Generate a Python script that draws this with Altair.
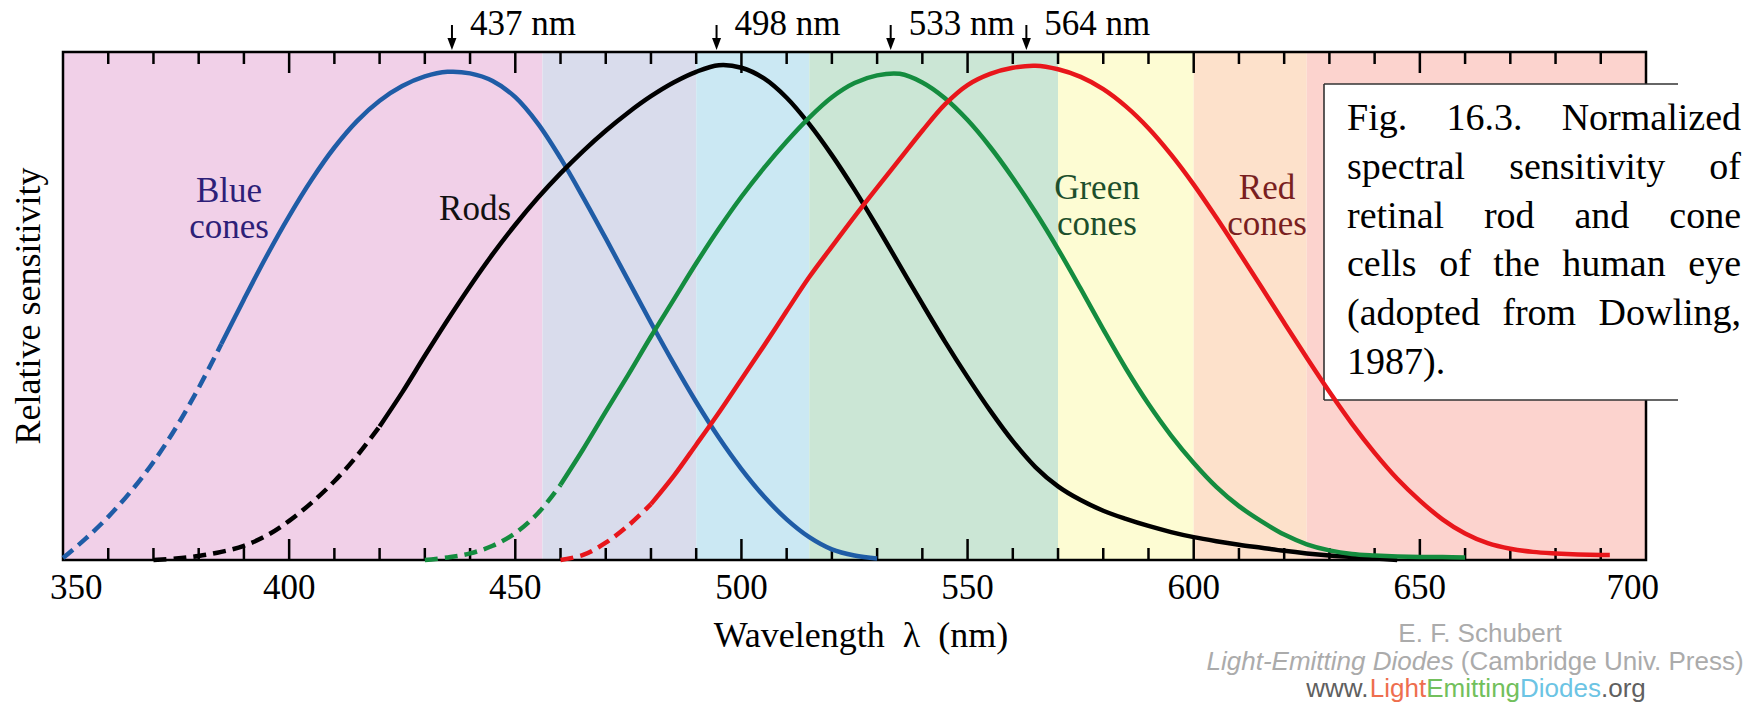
import altair as alt
import pandas as pd

# ---------------- data ----------------
band_start = [350, 456, 490, 515, 570, 600, 625]
band_end = [456, 490, 515, 570, 600, 625, 700]
band_color = ["#f1d0e8", "#d9dcec", "#cbe8f3", "#cbe6d5", "#fdfcd3", "#fde1cb", "#fcd3ce"]

blue_wl = [350, 355, 360, 365, 370, 375, 380, 385, 390, 395, 400, 405, 410, 415, 420,
           425, 430, 435, 440, 445, 450, 455, 460, 465, 470, 475, 480, 485, 490, 495,
           500, 505, 510, 515, 520, 525, 530]
blue_val = [0.004, 0.042, 0.085, 0.135, 0.193, 0.261, 0.339, 0.425, 0.513, 0.598, 0.677,
            0.749, 0.812, 0.864, 0.904, 0.933, 0.952, 0.961, 0.958, 0.943, 0.911, 0.859,
            0.791, 0.714, 0.633, 0.55, 0.467, 0.387, 0.311, 0.241, 0.179, 0.125, 0.08,
            0.045, 0.021, 0.009, 0.003]

rods_wl = [370, 375, 380, 385, 390, 395, 400, 405, 410, 415, 420, 425, 430, 435, 440,
           445, 450, 455, 460, 465, 470, 475, 480, 485, 490, 495, 500, 505, 510, 515,
           520, 525, 530, 535, 540, 545, 550, 555, 560, 565, 570, 575, 580, 585, 590,
           595, 600, 605, 610, 615, 620, 625, 630, 635, 640, 645]
rods_val = [0.0, 0.003, 0.008, 0.016, 0.028, 0.048, 0.077, 0.113, 0.155, 0.205, 0.263,
            0.33, 0.402, 0.472, 0.539, 0.602, 0.66, 0.713, 0.761, 0.805, 0.845, 0.881,
            0.913, 0.94, 0.961, 0.974, 0.969, 0.948, 0.91, 0.858, 0.797, 0.729, 0.656,
            0.58, 0.504, 0.43, 0.36, 0.294, 0.234, 0.183, 0.145, 0.118, 0.097, 0.081,
            0.067, 0.055, 0.045, 0.037, 0.03, 0.024, 0.018, 0.013, 0.009, 0.006, 0.003,
            0.0]

green_wl = [430, 435, 440, 445, 450, 455, 460, 465, 470, 475, 480, 485, 490, 495, 500,
            505, 510, 515, 520, 525, 530, 535, 540, 545, 550, 555, 560, 565, 570, 575,
            580, 585, 590, 595, 600, 605, 610, 615, 620, 625, 630, 635, 640, 645, 650,
            655, 660]
green_val = [0.0, 0.005, 0.013, 0.028, 0.053, 0.092, 0.148, 0.218, 0.292, 0.365, 0.44,
             0.512, 0.584, 0.652, 0.715, 0.772, 0.824, 0.871, 0.911, 0.939, 0.954, 0.957,
             0.94, 0.909, 0.866, 0.813, 0.752, 0.685, 0.612, 0.534, 0.454, 0.377, 0.307,
             0.245, 0.191, 0.144, 0.106, 0.076, 0.05, 0.031, 0.019, 0.012, 0.009, 0.007,
             0.006, 0.006, 0.005]

red_wl = [460, 465, 470, 475, 480, 485, 490, 495, 500, 505, 510, 515, 520, 525, 530,
          535, 540, 545, 550, 555, 560, 565, 570, 575, 580, 585, 590, 595, 600, 605,
          610, 615, 620, 625, 630, 635, 640, 645, 650, 655, 660, 665, 670, 675, 680,
          685, 690, 692]
red_val = [0.0, 0.01, 0.034, 0.068, 0.11, 0.165, 0.227, 0.29, 0.356, 0.422, 0.49, 0.557,
           0.617, 0.676, 0.733, 0.789, 0.845, 0.897, 0.935, 0.957, 0.969, 0.973, 0.966,
           0.951, 0.927, 0.893, 0.85, 0.798, 0.739, 0.674, 0.606, 0.537, 0.467, 0.398,
           0.331, 0.268, 0.211, 0.16, 0.117, 0.08, 0.052, 0.033, 0.022, 0.016, 0.013,
           0.011, 0.01, 0.01]

curve_names = ["blue", "rods", "green", "red"]
curve_colors = ["#1f5ca6", "#000000", "#148c3f", "#e8161b"]
dash_until = [385, 420, 460, 480]      # dashed (extrapolated) part of each curve

peak_wl = [436, 494.5, 533, 563]
peak_label = ["437 nm", "498 nm", "533 nm", "564 nm"]

x_tick_labels = [350, 400, 450, 500, 550, 600, 650, 700]
major_ticks = [400, 450, 500, 550, 600, 650]
minor_ticks = [360, 370, 380, 390, 410, 420, 430, 440, 460, 470, 480, 490, 510, 520,
               530, 540, 560, 570, 580, 590, 610, 620, 630, 640, 660, 670, 680, 690]
x_title = "Wavelength\u00a0\u00a0λ\u00a0\u00a0(nm)"
y_title = "Relative sensitivity"

curve_label_text = ["Blue", "cones", "Rods", "Green", "cones", "Red", "cones"]
curve_label_color = ["#2e1f78", "#2e1f78", "#111111", "#1d4f2c", "#1d4f2c", "#7a1f1f", "#7a1f1f"]
curve_label_wl = [386.7, 386.7, 441.1, 578.6, 578.6, 616.2, 616.2]
curve_label_val = [0.705, 0.634, 0.669, 0.711, 0.640, 0.711, 0.640]

caption_lines = ["Fig. 16.3. Normalized", "spectral sensitivity of", "retinal rod and cone",
                 "cells of the human eye", "(adopted from Dowling,", "1987)."]

credit_line1 = "E. F. Schubert"
credit_line2_italic = "Light-Emitting Diodes"
credit_line2_plain = "(Cambridge Univ. Press)"
credit_url_parts = ["www.", "Light", "Emitting", "Diodes", ".org"]
credit_url_colors = ["#606060", "#ee6e4e", "#72c05c", "#6cc4e4", "#606060"]

for a, b in [(blue_wl, blue_val), (rods_wl, rods_val), (green_wl, green_val), (red_wl, red_val)]:
    assert len(a) == len(b)

# ---------------- layout ----------------
W, H = 1583, 508
SERIF = "Liberation Serif"
SANS = "Liberation Sans"

TIMES = {"F": .556, "i": .278, "g": .5, ".": .25, "1": .5, "6": .5, "3": .5, "N": .722,
         "o": .5, "r": .333, "m": .778, "a": .444, "l": .278, "z": .444, "e": .444,
         "d": .5, "s": .389, "p": .5, "c": .444, "t": .278, "n": .5, "v": .5, "y": .5,
         "f": .333, "h": .5, "u": .5, "(": .333, "D": .722, "w": .722, ",": .25,
         "9": .5, "8": .5, "7": .5, ")": .333, " ": .25}
ARIAL = {"L": .556, "i": .222, "g": .556, "h": .556, "t": .278, "-": .333, "E": .667,
         "m": .833, "n": .556, " ": .278, "D": .722, "o": .556, "d": .556, "e": .556,
         "s": .5, "(": .333, "C": .722, "a": .556, "b": .556, "r": .333, "U": .722,
         "v": .5, ".": .278, "P": .667, ")": .333, "w": .722}


def width(s, table, size):
    return sum(table.get(c, 0.5) for c in s) * size


# caption box (pixel coords relative to plot origin)
BOX_L, BOX_T, BOX_R, BOX_B = 1261, 32, 1615, 348
CAP_FS, CAP_L, CAP_R, CAP_Y0, CAP_DY = 38, 1284, 1678, 67, 48.8

cap_rows = []
for i, line in enumerate(caption_lines):
    y = CAP_Y0 + i * CAP_DY
    words = line.split(" ")
    if i == len(caption_lines) - 1:
        cap_rows.append(dict(t=line, px=CAP_L, py=y, a="left"))
        continue
    ws = [width(w, TIMES, CAP_FS) for w in words]
    gap = (CAP_R - CAP_L - sum(ws)) / (len(words) - 1)
    x = CAP_L
    for j, (w, wd) in enumerate(zip(words, ws)):
        if j == len(words) - 1:
            cap_rows.append(dict(t=w, px=CAP_R, py=y, a="right"))
        else:
            cap_rows.append(dict(t=w, px=x, py=y, a="left"))
        x += wd + gap
cap_df = pd.DataFrame(cap_rows)

# credits
CR_FS = 26
CR_CX = 1413
CR_Y = [582, 610, 637]
cr1 = pd.DataFrame([dict(t=credit_line1, px=CR_CX + 4, py=CR_Y[0])])
w_it = width(credit_line2_italic, ARIAL, CR_FS)
w_sp = width(" ", ARIAL, CR_FS)
w_pl = width(credit_line2_plain, ARIAL, CR_FS)
start2 = CR_CX - (w_it + w_sp + w_pl) / 2
cr2i = pd.DataFrame([dict(t=credit_line2_italic, px=start2, py=CR_Y[1])])
cr2p = pd.DataFrame([dict(t=credit_line2_plain, px=start2 + w_it + w_sp, py=CR_Y[1])])
url_w = [width(p, ARIAL, CR_FS) for p in credit_url_parts]
xx = CR_CX - sum(url_w) / 2
url_rows = []
for p, c, wd in zip(credit_url_parts, credit_url_colors, url_w):
    url_rows.append(dict(t=p, px=xx, py=CR_Y[2], c=c))
    xx += wd
url_df = pd.DataFrame(url_rows)

# ---------------- tables ----------------
bands = pd.DataFrame({"start": band_start, "end": band_end, "color": band_color})

rows = []
for name, color, split, wls, vals in zip(curve_names, curve_colors, dash_until,
                                         [blue_wl, rods_wl, green_wl, red_wl],
                                         [blue_val, rods_val, green_val, red_val]):
    for w, v in zip(wls, vals):
        if w <= split:
            rows.append(dict(curve=name, seg="dash", wl=w, val=v, color=color))
        if w >= split:
            rows.append(dict(curve=name, seg="solid", wl=w, val=v, color=color))
curves = pd.DataFrame(rows)

peaks = pd.DataFrame({"wl": peak_wl, "label": peak_label})
majors = pd.DataFrame({"wl": major_ticks})
minors = pd.DataFrame({"wl": minor_ticks})
n_lab = len(x_tick_labels)
xlabels = pd.DataFrame({
    "wl": x_tick_labels,
    "txt": [str(v) for v in x_tick_labels],
    "pos": ["first"] + ["mid"] * (n_lab - 2) + ["last"],
})
labels = pd.DataFrame({"t": curve_label_text, "c": curve_label_color,
                       "lx": curve_label_wl, "ly": curve_label_val})
one = pd.DataFrame({"k": [0]})

xs = alt.Scale(domain=[350, 700], nice=False, zero=False)
ys = alt.Scale(domain=[0, 1], nice=False, zero=False)
X = lambda f: alt.X(f, scale=xs, axis=None)
Y = lambda f: alt.Y(f, scale=ys, axis=None)
PX = lambda f: alt.X(f, scale=None, axis=None)
PY = lambda f: alt.Y(f, scale=None, axis=None)

band_layer = alt.Chart(bands).mark_rect().encode(
    x=X("start:Q"), x2="end:Q", y=alt.value(0), y2=alt.value(H),
    color=alt.Color("color:N", scale=None))

frame = alt.Chart(one).mark_rect(fillOpacity=0, stroke="black", strokeWidth=2.5).encode(
    x=alt.value(0), x2=alt.value(W), y=alt.value(0), y2=alt.value(H))


def tick_layer(df, y0, y1):
    return alt.Chart(df).mark_rule(color="black", strokeWidth=2.5).encode(
        x=X("wl:Q"), y=alt.value(y0), y2=alt.value(y1))


ticks = [tick_layer(majors, H, H - 21), tick_layer(majors, 0, 21),
         tick_layer(minors, H, H - 12), tick_layer(minors, 0, 12)]


def xlabel_layer(pos, align, dx):
    return alt.Chart(xlabels).transform_filter(alt.datum.pos == pos).mark_text(
        align=align, baseline="middle", dx=dx, font=SERIF, fontSize=35,
        color="black").encode(x=X("wl:Q"), y=alt.value(H + 28), text="txt:N")


xlabel_layers = [xlabel_layer("first", "left", -13), xlabel_layer("mid", "center", 0),
                 xlabel_layer("last", "right", 13)]

xtitle = alt.Chart(one).mark_text(align="center", baseline="middle", font=SERIF,
                                  fontSize=36, color="black", text=x_title).encode(
    x=alt.value(798), y=alt.value(H + 76))
ytitle = alt.Chart(one).mark_text(align="center", baseline="middle", font=SERIF,
                                  fontSize=36, color="black", angle=270,
                                  text=y_title).encode(
    x=alt.value(-34), y=alt.value(H / 2))

box_fill = alt.Chart(one).mark_rect(color="white").encode(
    x=alt.value(BOX_L), x2=alt.value(BOX_R), y=alt.value(BOX_T), y2=alt.value(BOX_B))
box_top = alt.Chart(one).mark_rule(color="#333333", strokeWidth=1.6).encode(
    x=alt.value(BOX_L), x2=alt.value(BOX_R), y=alt.value(BOX_T))
box_bot = alt.Chart(one).mark_rule(color="#333333", strokeWidth=1.6).encode(
    x=alt.value(BOX_L), x2=alt.value(BOX_R), y=alt.value(BOX_B))
box_left = alt.Chart(one).mark_rule(color="#333333", strokeWidth=1.6).encode(
    x=alt.value(BOX_L), y=alt.value(BOX_T), y2=alt.value(BOX_B))

dashed = alt.Chart(curves).transform_filter(alt.datum.seg == "dash").mark_line(
    strokeWidth=4.5, interpolate="catmull-rom", strokeDash=[13, 7],
    strokeCap="butt").encode(
    x=X("wl:Q"), y=Y("val:Q"), color=alt.Color("color:N", scale=None), detail="curve:N")
solid = alt.Chart(curves).transform_filter(alt.datum.seg == "solid").mark_line(
    strokeWidth=4.5, interpolate="catmull-rom").encode(
    x=X("wl:Q"), y=Y("val:Q"), color=alt.Color("color:N", scale=None), detail="curve:N")

stems = alt.Chart(peaks).mark_rule(color="black", strokeWidth=2).encode(
    x=X("wl:Q"), y=alt.value(-27), y2=alt.value(-12))
heads = alt.Chart(peaks).mark_point(shape="M-0.75,-1L0.75,-1L0,1Z", filled=True,
                                    color="black", opacity=1, size=144).encode(
    x=X("wl:Q"), y=alt.value(-8))
peak_text = alt.Chart(peaks).mark_text(align="left", baseline="middle", dx=18,
                                       font=SERIF, fontSize=35, color="black").encode(
    x=X("wl:Q"), y=alt.value(-28), text="label:N")

curve_text = alt.Chart(labels).mark_text(align="center", baseline="alphabetic",
                                         font=SERIF, fontSize=35).encode(
    x=X("lx:Q"), y=Y("ly:Q"), text="t:N", color=alt.Color("c:N", scale=None))


def cap_layer(anchor):
    return alt.Chart(cap_df).transform_filter(alt.datum.a == anchor).mark_text(
        align=anchor, baseline="middle", font=SERIF, fontSize=CAP_FS,
        color="black").encode(x=PX("px:Q"), y=PY("py:Q"), text="t:N")


caption = [cap_layer("left"), cap_layer("right")]

credit1 = alt.Chart(cr1).mark_text(align="center", baseline="middle", font=SANS,
                                   fontSize=CR_FS, color="#ababab").encode(
    x=PX("px:Q"), y=PY("py:Q"), text="t:N")
credit2i = alt.Chart(cr2i).mark_text(align="left", baseline="middle", font=SANS,
                                     fontSize=CR_FS, fontStyle="italic",
                                     color="#ababab").encode(
    x=PX("px:Q"), y=PY("py:Q"), text="t:N")
credit2p = alt.Chart(cr2p).mark_text(align="left", baseline="middle", font=SANS,
                                     fontSize=CR_FS, color="#ababab").encode(
    x=PX("px:Q"), y=PY("py:Q"), text="t:N")
credit3 = alt.Chart(url_df).mark_text(align="left", baseline="middle", font=SANS,
                                      fontSize=CR_FS).encode(
    x=PX("px:Q"), y=PY("py:Q"), text="t:N", color=alt.Color("c:N", scale=None))

chart = alt.layer(
    band_layer, frame, *ticks, *xlabel_layers, xtitle, ytitle,
    box_fill, box_top, box_bot, box_left,
    dashed, solid, stems, heads, peak_text, curve_text, *caption,
    credit1, credit2i, credit2p, credit3
).properties(
    width=W, height=H,
    autosize=alt.AutoSizeParams(type="none"),
    padding={"left": 55, "top": 44, "right": 104, "bottom": 145},
    background="white",
).configure_view(strokeWidth=0)

chart.save("out.html", embed_options={"renderer": "svg", "actions": False})
